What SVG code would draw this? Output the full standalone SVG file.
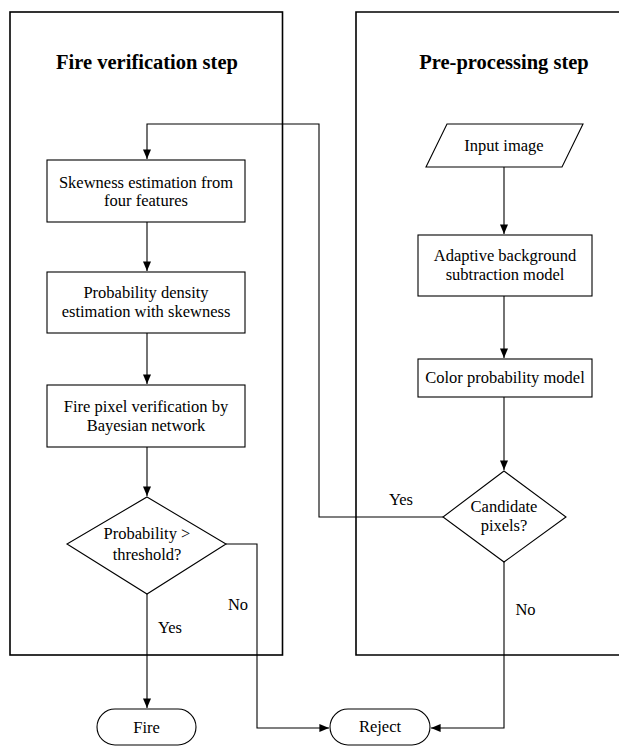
<svg xmlns="http://www.w3.org/2000/svg" width="619" height="746" viewBox="0 0 619 746">
<style>
text{font-family:'Liberation Serif', 'Times New Roman', 'DejaVu Serif', serif;fill:#000;text-anchor:middle}
.t{font-size:16.5px}
.h{font-size:20.5px;font-weight:bold}
.c{fill:none;stroke:#000;stroke-width:1.6}
.n{fill:#fff;stroke:#000;stroke-width:1.1}
.e{fill:none;stroke:#000;stroke-width:1.1}
</style>
<defs>
<marker id="b" viewBox="0 0 12 10" refX="12" refY="5" markerWidth="12" markerHeight="8" markerUnits="userSpaceOnUse" orient="auto">
<path d="M0,0 L12,5 L0,10 Z" fill="#000"/>
</marker>
</defs>
<rect width="619" height="746" fill="#fff"/>
<g id="fire-step">
<rect class="c" x="10" y="12" width="272.5" height="643"/>
<text class="h" x="147" y="69">Fire verification step</text>
</g>
<g id="pre-step">
<path class="c" d="M619,12 H356 V655 H619"/>
<text class="h" x="504" y="69">Pre-processing step</text>
</g>
<g id="connectors">
<path class="e" d="M443,517 H319 V124 H147 V159" marker-end="url(#b)"/>
<path class="e" d="M147,222 V271" marker-end="url(#b)"/>
<path class="e" d="M147,333 V384" marker-end="url(#b)"/>
<path class="e" d="M147,447 V496" marker-end="url(#b)"/>
<path class="e" d="M147,594 V708" marker-end="url(#b)"/>
<path class="e" d="M226,544 H257 V728 H329" marker-end="url(#b)"/>
<path class="e" d="M504,167 V234" marker-end="url(#b)"/>
<path class="e" d="M504,296 V358" marker-end="url(#b)"/>
<path class="e" d="M504,397 V470" marker-end="url(#b)"/>
<path class="e" d="M504,562 V728 H431" marker-end="url(#b)"/>
<text class="t" x="401" y="505">Yes</text>
<text class="t" x="238" y="610">No</text>
<text class="t" x="170" y="633">Yes</text>
<text class="t" x="525.5" y="615">No</text>
</g>
<g id="skewness">
<rect class="n" x="47" y="160" width="198" height="62"/>
<text class="t" x="146" y="188">Skewness estimation from</text>
<text class="t" x="146" y="206">four features</text>
</g>
<g id="density">
<rect class="n" x="47" y="272" width="198" height="61"/>
<text class="t" x="146" y="298">Probability density</text>
<text class="t" x="146" y="317">estimation with skewness</text>
</g>
<g id="bayes">
<rect class="n" x="47" y="385" width="198" height="62"/>
<text class="t" x="146" y="412">Fire pixel verification by</text>
<text class="t" x="146" y="431">Bayesian network</text>
</g>
<g id="threshold">
<path class="n" d="M147,497 L226,544 L147,594 L67,544 Z"/>
<text class="t" x="147" y="539">Probability &gt;</text>
<text class="t" x="147" y="560">threshold?</text>
</g>
<g id="fire">
<rect class="n" x="97" y="709" width="99" height="36" rx="18"/>
<text class="t" x="146.5" y="732.5">Fire</text>
</g>
<g id="reject">
<rect class="n" x="330" y="709" width="100" height="36" rx="18"/>
<text class="t" x="380" y="732">Reject</text>
</g>
<g id="input">
<path class="n" d="M447,124 H583 L562,167 H426 Z"/>
<text class="t" x="504" y="151">Input image</text>
</g>
<g id="adaptive">
<rect class="n" x="418" y="235" width="174" height="61"/>
<text class="t" x="505" y="261">Adaptive background</text>
<text class="t" x="505" y="280">subtraction model</text>
</g>
<g id="color">
<rect class="n" x="418" y="359" width="174" height="38"/>
<text class="t" x="505" y="383">Color probability model</text>
</g>
<g id="candidate">
<path class="n" d="M504,471 L566,517 L504,562 L443,517 Z"/>
<text class="t" x="504" y="512">Candidate</text>
<text class="t" x="504" y="531">pixels?</text>
</g>
</svg>
